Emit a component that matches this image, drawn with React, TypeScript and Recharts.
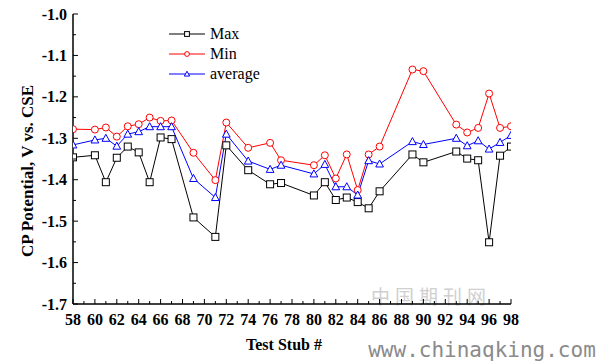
import React from 'react';
import { LineChart, Line, XAxis, YAxis, Legend, Customized } from 'recharts';

const stubs = [58, 60, 61, 62, 63, 64, 65, 66, 67, 69, 71, 72, 74, 76, 77, 80, 81, 82, 83, 84, 85, 86, 89, 90, 93, 94, 95, 96, 97, 98];
const maxV = [-1.346, -1.341, -1.406, -1.347, -1.320, -1.334, -1.406, -1.298, -1.302, -1.491, -1.538, -1.317, -1.377, -1.411, -1.408, -1.438, -1.406, -1.449, -1.443, -1.454, -1.469, -1.428, -1.339, -1.358, -1.332, -1.349, -1.353, -1.551, -1.342, -1.320];
const minV = [-1.278, -1.279, -1.274, -1.296, -1.271, -1.266, -1.250, -1.258, -1.257, -1.335, -1.401, -1.262, -1.323, -1.311, -1.353, -1.365, -1.341, -1.397, -1.339, -1.425, -1.339, -1.320, -1.134, -1.138, -1.267, -1.286, -1.275, -1.192, -1.275, -1.271];
const avgV = [-1.316, -1.304, -1.300, -1.319, -1.290, -1.284, -1.272, -1.272, -1.272, -1.397, -1.443, -1.290, -1.355, -1.375, -1.365, -1.386, -1.363, -1.417, -1.417, -1.437, -1.354, -1.362, -1.308, -1.315, -1.300, -1.318, -1.306, -1.326, -1.310, -1.293];

const xTicks = [58, 59, 60, 61, 62, 63, 64, 65, 66, 67, 68, 69, 70, 71, 72, 73, 74, 75, 76, 77, 78, 79, 80, 81, 82, 83, 84, 85, 86, 87, 88, 89, 90, 91, 92, 93, 94, 95, 96, 97, 98];
const yTicks = [-1.7, -1.65, -1.6, -1.55, -1.5, -1.45, -1.4, -1.35, -1.3, -1.25, -1.2, -1.15, -1.1, -1.05, -1.0];

const seriesNames = ['Max', 'Min', 'average'];
const seriesColors = ['#000000', '#ff0000', '#0000ff'];
const seriesShapes = ['square', 'circle', 'triangle'];
const seriesKeys = ['max', 'min', 'avg'];

const data = stubs.map((s, i) => ({ stub: s, max: maxV[i], min: minV[i], avg: avgV[i] }));

const FONT = '"Liberation Serif", "Times New Roman", serif';

function Marker({ shape, cx, cy, color, s }: any) {
  if (shape === 'square') {
    return <rect x={cx - s} y={cy - s} width={2 * s} height={2 * s} fill="#fff" stroke={color} strokeWidth={1} />;
  }
  if (shape === 'circle') {
    return <circle cx={cx} cy={cy} r={s} fill="#fff" stroke={color} strokeWidth={1} />;
  }
  const h = s * 1.15;
  return (
    <polygon
      points={`${cx},${cy - h} ${cx - s * 1.1},${cy + h * 0.75} ${cx + s * 1.1},${cy + h * 0.75}`}
      fill="#fff"
      stroke={color}
      strokeWidth={1}
    />
  );
}

const makeDot = (shape: string, color: string) => (props: any) => {
  const { cx, cy, index } = props;
  if (cx == null || cy == null) return <g key={`d-${shape}-${index}`} />;
  return (
    <g key={`d-${shape}-${index}`}>
      <Marker shape={shape} cx={cx} cy={cy} color={color} s={3.5} />
    </g>
  );
};

const XTick = (props: any) => {
  const { x, y, payload } = props;
  const v = payload.value;
  const major = Math.round(v) % 2 === 0;
  return (
    <g>
      <line x1={x} x2={x} y1={y} y2={y - (major ? 5 : 3)} stroke="#000" strokeWidth={1} />
      {major && (
        <text x={x} y={y + 21} textAnchor="middle" fontFamily={FONT} fontWeight="bold" fontSize={16} fill="#000">
          {v}
        </text>
      )}
    </g>
  );
};

const YTick = (props: any) => {
  const { x, y, payload } = props;
  const v = payload.value;
  const major = Math.round(v * 100) % 10 === 0;
  return (
    <g>
      <line x1={x} x2={x + (major ? 5 : 3)} y1={y} y2={y} stroke="#000" strokeWidth={1} />
      {major && (
        <text x={x - 6} y={y + 5.5} textAnchor="end" fontFamily={FONT} fontWeight="bold" fontSize={16} fill="#000">
          {v.toFixed(1)}
        </text>
      )}
    </g>
  );
};

const LegendContent = () => (
  <div style={{ fontFamily: FONT, fontSize: 16, color: '#000' }}>
    {seriesNames.map((name, i) => (
      <div key={name} style={{ display: 'flex', alignItems: 'center', height: 20 }}>
        <svg width={38} height={20} style={{ display: 'block' }}>
          <line x1={1} x2={37} y1={10} y2={10} stroke={seriesColors[i]} strokeWidth={1} />
          <Marker shape={seriesShapes[i]} cx={19} cy={10} color={seriesColors[i]} s={2.4} />
        </svg>
        <span style={{ marginLeft: 4, lineHeight: '20px' }}>{name}</span>
      </div>
    ))}
  </div>
);

const Labels = () => (
  <g>
    <text x={284} y={350} textAnchor="middle" fontFamily={FONT} fontWeight="bold" fontSize={16} fill="#000">
      Test Stub #
    </text>
    <text
      x={27}
      y={171}
      transform="rotate(-90 27 171)"
      textAnchor="middle"
      dominantBaseline="central"
      fontFamily={FONT}
      fontWeight="bold"
      fontSize={17}
      fill="#000"
    >
      CP Potential, V vs. CSE
    </text>
    <text x={431} y={304} textAnchor="middle" fontFamily='"Noto Sans CJK SC", sans-serif' fontSize={19} letterSpacing={5} fill="#c8c8c8" opacity={0.85}>
      中国期刊网
    </text>
    <text x={482} y={357} textAnchor="middle" fontFamily='"DejaVu Sans Mono", monospace' fontSize={21} fill="#8a8a8a">
      www.chinaqking.com
    </text>
  </g>
);

export default function App() {
  return (
    <div style={{ position: 'absolute', left: 0, top: 0, width: 598, height: 363, background: '#fff' }}>
      <LineChart width={598} height={363} data={data} margin={{ top: 14, right: 87, left: 13, bottom: 29 }}>
        <XAxis
          dataKey="stub"
          type="number"
          domain={[58, 98]}
          ticks={xTicks}
          interval={0}
          tickSize={0}
          tickMargin={0}
          tickLine={false}
          tick={<XTick />}
          height={30}
          axisLine={{ stroke: '#000', strokeWidth: 1.5 }}
          allowDataOverflow
        />
        <XAxis
          xAxisId="top"
          orientation="top"
          type="number"
          domain={[58, 98]}
          height={0}
          tick={false}
          tickLine={false}
          axisLine={{ stroke: '#000', strokeWidth: 1.5 }}
        />
        <YAxis
          type="number"
          domain={[-1.7, -1.0]}
          ticks={yTicks}
          interval={0}
          tickSize={0}
          tickMargin={0}
          tickLine={false}
          tick={<YTick />}
          width={60}
          axisLine={{ stroke: '#000', strokeWidth: 1.5 }}
          allowDataOverflow
        />
        <YAxis
          yAxisId="right"
          orientation="right"
          type="number"
          domain={[-1.7, -1.0]}
          width={0}
          tick={false}
          tickLine={false}
          axisLine={{ stroke: '#000', strokeWidth: 1.5 }}
        />
        <Legend
          layout="vertical"
          align="center"
          verticalAlign="middle"
          content={<LegendContent />}
          wrapperStyle={{ position: 'absolute', left: 168, top: 24, width: 130, height: 60 }}
        />
        {seriesKeys.map((k, i) => (
          <Line
            key={k}
            dataKey={k}
            name={seriesNames[i]}
            stroke={seriesColors[i]}
            strokeWidth={1}
            type="linear"
            dot={makeDot(seriesShapes[i], seriesColors[i])}
            activeDot={false}
            isAnimationActive={false}
          />
        ))}
        <Customized component={<Labels />} />
      </LineChart>
    </div>
  );
}
